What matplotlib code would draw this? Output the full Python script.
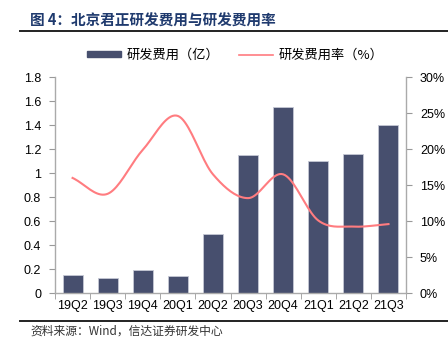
import matplotlib.pyplot as plt
import matplotlib.lines as mlines
import numpy as np

plt.rcParams['font.family'] = ['Liberation Sans', 'Noto Sans CJK SC', 'DejaVu Sans']

quarters = ["19Q2", "19Q3", "19Q4", "20Q1", "20Q2", "20Q3", "20Q4", "21Q1", "21Q2", "21Q3"]
rd_expense = [0.15, 0.13, 0.19, 0.14, 0.49, 1.15, 1.55, 1.10, 1.16, 1.40]
rd_rate = [16.0, 13.8, 19.9, 24.6, 16.5, 13.2, 16.5, 10.1, 9.25, 9.6]

bar_color = "#474F6E"
line_color = "#FF7C80"
cjk = ['Noto Sans CJK SC', 'DejaVu Sans']


def smooth(xs, ys, n=20):
    # Catmull-Rom style curve through the points, like Excel's smoothed line
    xs = np.asarray(xs, float)
    ys = np.asarray(ys, float)
    px = np.concatenate([[2 * xs[0] - xs[1]], xs, [2 * xs[-1] - xs[-2]]])
    py = np.concatenate([[2 * ys[0] - ys[1]], ys, [2 * ys[-1] - ys[-2]]])
    out_x, out_y = [], []
    t = np.linspace(0, 1, n, endpoint=False)
    for i in range(1, len(px) - 2):
        for p, o in ((px, out_x), (py, out_y)):
            p0, p1, p2, p3 = p[i - 1], p[i], p[i + 1], p[i + 2]
            o.extend(0.5 * (2 * p1 + (-p0 + p2) * t + (2 * p0 - 5 * p1 + 4 * p2 - p3) * t ** 2
                            + (-p0 + 3 * p1 - 3 * p2 + p3) * t ** 3))
    out_x.append(xs[-1])
    out_y.append(ys[-1])
    return out_x, out_y


fig = plt.figure(figsize=(4.48, 3.5), dpi=100)
ax = fig.add_axes([0.1228, 0.162, 0.7835, 0.618])
ax2 = ax.twinx()

x = np.arange(len(quarters))
ax.bar(x, rd_expense, width=0.57, color=bar_color, edgecolor="#C5C8D4", linewidth=0.6, zorder=2)
sx, sy = smooth(x, rd_rate)
ax2.plot(sx, sy, color=line_color, linewidth=1.5, zorder=3)

ax.set_xlim(-0.5, len(quarters) - 0.5)
ax.set_ylim(0, 1.8)
ax.set_yticks(np.arange(0, 1.81, 0.2))
ax.set_yticklabels(["0" if v == 0 else ("1" if abs(v - 1) < 1e-9 else f"{v:.1f}") for v in np.arange(0, 1.81, 0.2)])
ax2.set_ylim(0, 30)
ax2.set_yticks(np.arange(0, 31, 5))
ax2.set_yticklabels([f"{v}%" for v in range(0, 31, 5)])

ax.set_xticks(x)
ax.set_xticklabels(quarters)
ax.set_xticks(np.arange(-0.5, len(quarters), 1), minor=True)
ax.tick_params(axis="x", which="major", length=0, pad=5, labelsize=9)
ax.tick_params(axis="x", which="minor", length=4, color="#999999", direction="out")
ax.tick_params(axis="y", length=4, color="#999999", labelsize=9, pad=6)
ax2.tick_params(axis="y", length=4, color="#999999", labelsize=9, pad=6)

for a in (ax, ax2):
    a.spines["top"].set_visible(False)
    for s in ("left", "right", "bottom"):
        a.spines[s].set_color("#AAAAAA")
        a.spines[s].set_linewidth(1.0)
ax.spines["right"].set_visible(False)
ax2.spines["left"].set_visible(False)
ax2.spines["bottom"].set_visible(False)

# legend
h1 = plt.Rectangle((0, 0), 1, 1, color=bar_color)
h2 = mlines.Line2D([], [], color=line_color, linewidth=1.2)
fig.legend([h1, h2], ["研发费用（亿）", "研发费用率（%）"], loc="center", bbox_to_anchor=(0.525, 0.842),
           ncol=2, frameon=False, prop={'family': cjk, 'size': 9.5}, handlelength=2.6, handleheight=0.35,
           columnspacing=1.5, handletextpad=0.4)

# title and rules
fig.text(0.067, 0.94, "图 4：北京君正研发费用与研发费用率", color="#1F3A6E", fontsize=10.5, fontweight="bold",
         family=cjk, va="center")
fig.add_artist(mlines.Line2D([0.045, 1.0], [0.911, 0.911], color="#222222", linewidth=1.4))
fig.add_artist(mlines.Line2D([0.045, 1.0], [0.083, 0.083], color="#222222", linewidth=1.4))
fig.text(0.067, 0.055, "资料来源：Wind，信达证券研发中心", color="#333333", fontsize=8.5, style="italic",
         family=cjk, va="center")

fig.savefig("out.png", dpi=100)
